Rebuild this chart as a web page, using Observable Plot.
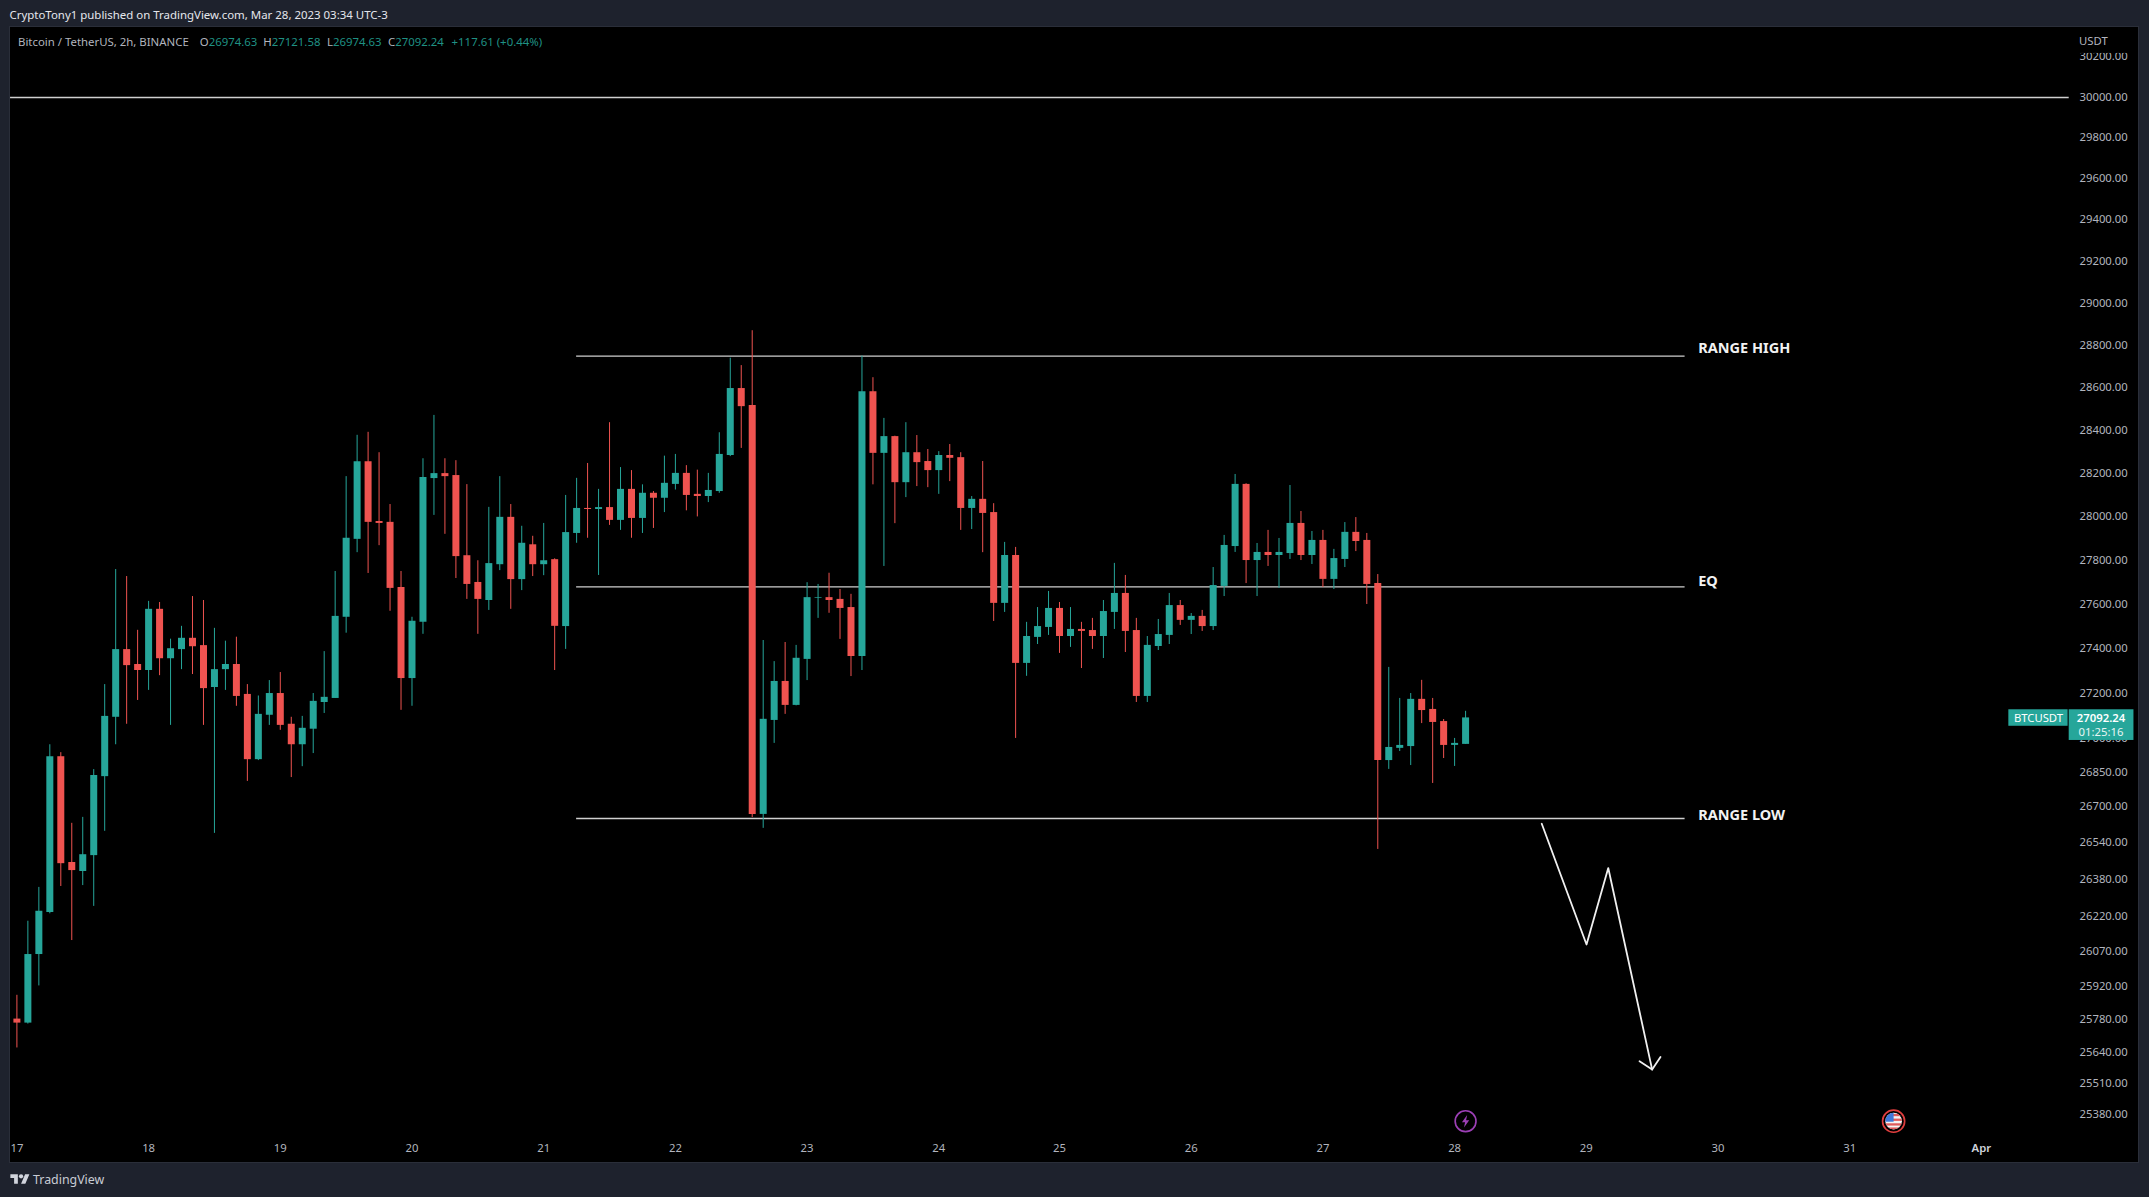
<!DOCTYPE html>
<html>
<head>
<meta charset="utf-8">
<script src="https://cdn.jsdelivr.net/npm/d3@7"></script>
<script src="https://cdn.jsdelivr.net/npm/@observablehq/plot@0.6"></script>
<style>
  html, body { margin: 0; padding: 0; background: #1e222d; width: 2149px; height: 1197px; overflow: hidden; font-family: "Noto Sans", sans-serif; }
  #header { position: absolute; left: 9.5px; top: 6px; color: #e4e6ec; font-size: 11.45px; line-height: 18px; white-space: nowrap; }
  #chart { position: absolute; left: 10px; top: 27px; }
  #legend { position: absolute; left: 18px; top: 33px; font-size: 11.4px; line-height: 18px; color: #b2b5be; white-space: nowrap; }
  #legend span { position: absolute; top: 0; color: #1f9184; }
  #legend b { font-weight: 400; color: #b2b5be; }
  #footer { position: absolute; left: 10px; top: 1169px; height: 20px; display: flex; align-items: center; color: #c9ccd4; font-size: 12.4px; }
  #footer svg { width: 20px; height: 15px; margin-right: 3px; }
</style>
</head>
<body>
<div id="header">CryptoTony1 published on TradingView.com, Mar 28, 2023 03:34 UTC-3</div>
<div id="chart"></div>
<div id="legend">Bitcoin / TetherUS, 2h, BINANCE
  <span style="left:181.8px"><b>O</b>26974.63</span>
  <span style="left:245.3px"><b>H</b>27121.58</span>
  <span style="left:309px"><b>L</b>26974.63</span>
  <span style="left:370px"><b>C</b>27092.24</span>
  <span style="left:433.6px">+117.61 (+0.44%)</span>
</div>
<div id="footer"><svg viewBox="0 0 36 28"><path fill="#d1d4dc" d="M14 22H7V11H0V4h14v18zM28 22h-8l7.5-18h8L28 22z"/><circle fill="#d1d4dc" cx="20" cy="8" r="4"/></svg>TradingView</div>
<script>
const opens = [25784,25767,26059,26240,26920,26456,26417,26486,26832,27095,27398,27331,27304,27580,27357,27398,27449,27416,27228,27308,27331,27197,26907,27104,27201,27064,26973,27042,27161,27179,27544,27899,28257,27981,27977,27679,27268,27521,28179,28202,28193,27824,27702,27620,27783,28000,27715,27874,27783,27806,27502,27926,28041,28036,28045,27986,28129,27995,28111,28088,28152,28203,28106,28096,28119,28286,28599,28519,26666,27081,27255,27148,27354,27630,27633,27625,27588,27367,28584,28296,28374,28160,28299,28258,28216,28286,28276,28041,28083,28022,27607,27825,27336,27453,27498,27584,27457,27489,27484,27457,27566,27652,27484,27188,27412,27462,27597,27530,27548,27502,27684,27866,28152,27802,27839,27825,27834,27972,27825,27894,27716,27807,27931,27894,27697,26903,26957,26965,27175,27130,27076,26970,26974.63];
const highs = [25885,26202,26348,26973,26938,26627,26653,26863,27241,27761,27729,27485,27616,27611,27445,27503,27638,27620,27494,27436,27454,27241,27190,27259,27295,27095,27099,27201,27389,27752,28188,28380,28394,28299,28059,27752,27544,28271,28473,28271,28262,28151,27801,28046,28188,28059,27959,27913,27972,27810,28101,28180,28249,28129,28439,28230,28216,28150,28119,28283,28291,28239,28218,28203,28392,28742,28707,28872,27439,27344,27430,27417,27701,27693,27744,27670,27648,28752,28650,28459,28376,28439,28379,28314,28304,28337,28299,28096,28258,28063,27885,27862,27521,27588,27661,27611,27588,27521,27539,27620,27789,27734,27539,27457,27534,27652,27620,27561,27575,27770,27917,28198,28155,27880,27940,27903,28147,28027,27935,27940,27853,27976,27999,27926,27738,27318,27179,27201,27260,27179,27085,27001,27121.58];
const lows = [25662,25763,25925,26234,26352,26119,26356,26266,26592,26973,27064,27170,27215,27281,27059,27308,27286,27059,26583,27215,27144,26811,26903,27059,27037,26828,26876,26934,27112,27179,27472,27838,27743,27870,27571,27126,27144,27467,28009,27922,27720,27625,27467,27575,27756,27580,27665,27729,27733,27304,27399,27881,27904,27734,27963,27940,27904,27926,27949,28022,28126,28030,28002,28068,28111,28281,28319,26652,26605,26979,27108,27146,27259,27539,27562,27444,27277,27304,28150,27775,27971,28091,28142,28137,28106,28165,27940,27944,27838,27525,27566,27001,27278,27421,27462,27381,27408,27313,27399,27358,27489,27385,27161,27161,27394,27421,27507,27466,27480,27484,27638,27839,27697,27638,27775,27675,27807,27802,27784,27679,27670,27770,27843,27602,26513,26864,26943,26881,27067,26802,26912,26877,26974.63];
const closes = [25767,26059,26245,26920,26451,26421,26490,26837,27099,27398,27326,27304,27580,27357,27402,27449,27411,27223,27308,27331,27188,26907,27108,27201,27059,26973,27046,27166,27184,27548,27904,28257,27977,27972,27675,27268,27526,28184,28202,28188,27820,27693,27625,27788,28000,27715,27881,27783,27801,27503,27930,28041,28036,28045,27986,28129,27995,28111,28088,28157,28203,28101,28096,28124,28291,28599,28514,26666,27086,27255,27148,27359,27633,27633,27620,27584,27367,28584,28296,28374,28160,28299,28253,28216,28286,28273,28041,28083,28018,27607,27825,27336,27457,27502,27584,27457,27489,27480,27457,27570,27652,27480,27188,27417,27466,27597,27530,27548,27502,27688,27871,28152,27802,27839,27825,27839,27972,27825,27894,27716,27811,27931,27889,27693,26903,26961,26970,27175,27125,27072,26970,26979,27092.24];

const priceTicks = [30200,30000,29800,29600,29400,29200,29000,28800,28600,28400,28200,28000,27800,27600,27400,27200,27000,26850,26700,26540,26380,26220,26070,25920,25780,25640,25510,25380];
const dayTickIndex = [0,12,24,36,48,60,72,84,95,107,119,131,143,155,167];
const dayTickLabel = ["17","18","19","20","21","22","23","24","25","26","27","28","29","30","31"];
const monthTickIndex = [179];
const monthTickLabel = ["Apr"];

const levelPrices = [28752, 27682, 26648];
const levelLabels = ["RANGE HIGH", "EQ", "RANGE LOW"];
const levelLabelPrices = [28787, 27706, 26660];
const levelStart = [51, 51, 51];
const levelEnd = [152, 152, 152];
const levelLabelAt = 153.2;
const roundLevel = [30000];

const pathIndex = [138.94, 143.02, 145.0, 149.0];
const pathPrice = [26625, 26102, 26432, 25571];
const headIndex = [147.85, 149.0, 149.76];
const headPrice = [25606, 25571, 25624];

const up = "#26a69a", down = "#ef5350";
const bars = opens.map((o, i) => ({i, o, h: highs[i], l: lows[i], c: closes[i]}));
const downColorIdx = [0,4,5,10,11,13,16,17,20,21,24,25,32,33,34,35,39,40,41,42,45,47,49,52,54,56,58,61,62,66,67,70,74,75,76,78,80,82,83,85,86,88,89,91,95,97,98,101,102,106,108,112,114,117,119,122,123,124,128,129,130];
bars.forEach((b, i) => { b.color = downColorIdx.includes(i) ? down : up; });

const levels = levelPrices.map((p, i) => ({p, label: levelLabels[i], lp: levelLabelPrices[i], a: levelStart[i], b: levelEnd[i]}));
const pathPts = pathIndex.map((x, i) => ({x, y: pathPrice[i]}));
const headPts = headIndex.map((x, i) => ({x, y: headPrice[i]}));

const bolt = "data:image/svg+xml," + encodeURIComponent('<svg xmlns="http://www.w3.org/2000/svg" viewBox="0 0 24 24"><circle cx="12" cy="12" r="10" fill="none" stroke="#9c3fb5" stroke-width="1.6"/><path d="M13.5 6 8.5 13h3l-1 5 5-7h-3z" fill="#9c3fb5"/></svg>');
const flag = "data:image/svg+xml," + encodeURIComponent('<svg xmlns="http://www.w3.org/2000/svg" viewBox="0 0 24 24"><defs><clipPath id="c"><circle cx="12" cy="12" r="8"/></clipPath></defs><circle cx="12" cy="12" r="10.6" fill="#000" stroke="#e03e3e" stroke-width="1.6"/><g clip-path="url(#c)"><rect width="24" height="24" fill="#f4f4f4"/><rect x="0" y="5" width="24" height="2.2" fill="#e05a5a"/><rect x="0" y="9.5" width="24" height="2.2" fill="#e05a5a"/><rect x="0" y="14" width="24" height="2.2" fill="#e05a5a"/><rect x="0" y="18" width="24" height="2.2" fill="#e05a5a"/><rect x="0" y="0" width="12" height="12.5" fill="#3f78d8"/></g></svg>');

const chart = Plot.plot({
  width: 2128, height: 1135,
  marginTop: 0, marginLeft: 0, marginRight: 69, marginBottom: 24,
  style: {background: "#000", fontFamily: "'Noto Sans', sans-serif", outline: "1px solid #2a2e39"},
  x: {type: "linear", domain: [0, 179], range: [6.4, 1970.9]},
  y: {type: "log", domain: [30000, 25380], range: [70, 1087.7]},
  marks: [
    Plot.axisY(priceTicks, {anchor: "right", tickSize: 0, tickPadding: 10, label: null, tickFormat: d => d.toFixed(2), fontSize: 11.3, color: "#b2b5be", dy: -0.6}),
    Plot.axisX(dayTickIndex, {anchor: "bottom", tickSize: 0, tickPadding: 5, label: null, tickFormat: d => dayTickLabel[dayTickIndex.indexOf(d)], fontSize: 11.3, color: "#b2b5be"}),
    Plot.axisX(monthTickIndex, {anchor: "bottom", tickSize: 0, tickPadding: 5, label: null, tickFormat: d => monthTickLabel[monthTickIndex.indexOf(d)], fontSize: 11.3, fontWeight: 600, color: "#d1d4dc"}),
    Plot.ruleY(roundLevel, {x1: -0.58, x2: 187, stroke: "#cfcfcf", strokeWidth: 1.3}),
    Plot.ruleY(levels, {y: "p", x1: "a", x2: "b", stroke: "#cfcfcf", strokeWidth: 1.3}),
    Plot.ruleX(bars, {x: "i", y1: "l", y2: "h", stroke: "color", strokeWidth: 1}),
    Plot.ruleX(bars, {x: "i", y1: "o", y2: "c", stroke: "color", strokeWidth: 7}),
    Plot.text(levels, {x: levelLabelAt, y: "lp", text: "label", textAnchor: "start", fill: "#f2f2f2", fontWeight: 700, fontSize: 14.5}),
    Plot.line(pathPts, {x: "x", y: "y", stroke: "#f0f0f0", strokeWidth: 1.8, curve: "linear"}),
    Plot.line(headPts, {x: "x", y: "y", stroke: "#f0f0f0", strokeWidth: 1.8, curve: "linear"}),
    Plot.rect([{a: 187.6, b: 193.5, t: 30347, u: 30218}], {x1: "a", x2: "b", y1: "t", y2: "u", fill: "#000"}),
    Plot.text(["USDT"], {x: 187.9, y: 30277, textAnchor: "start", fill: "#b2b5be", fontSize: 11.3}),
    Plot.rect([{a: 181.5, b: 186.9, t: 27128.5, u: 27055}], {x1: "a", x2: "b", y1: "t", y2: "u", fill: up}),
    Plot.rect([{a: 187, b: 192.9, t: 27128.5, u: 26992}], {x1: "a", x2: "b", y1: "t", y2: "u", fill: up}),
    Plot.text(["BTCUSDT"], {x: 184.2, y: 27092, fill: "#fff", fontSize: 11.3}),
    Plot.text(["27092.24"], {x: 189.9, y: 27089, fill: "#fff", fontSize: 11.3, fontWeight: 600}),
    Plot.text(["01:25:16"], {x: 189.9, y: 27030, fill: "#e8f5f3", fontSize: 11.3}),
    Plot.image([{x: 132, y: 25355}], {x: "x", y: "y", src: () => bolt, width: 25, height: 25}),
    Plot.image([{x: 171, y: 25355}], {x: "x", y: "y", src: () => flag, width: 25, height: 25})
  ]
});
document.getElementById("chart").append(chart);
</script>
</body>
</html>
